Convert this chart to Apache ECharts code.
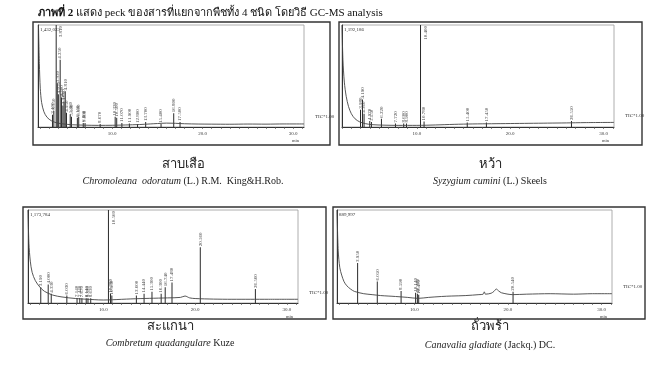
<!DOCTYPE html>
<html><head><meta charset="utf-8">
<script src="https://cdn.jsdelivr.net/npm/echarts@6/dist/echarts.min.js"></script>
<style>html,body{margin:0;padding:0;background:#fff}#c{width:655px;height:388px}</style>
</head><body><div id="c"></div>
<script>
// ---------- DATA (relative intensity % of full scale vs retention time, min) ----------
const figureTitleBold = 'ภาพที่ 2';
const figureTitleRest = ' แสดง peck ของสารที่แยกจากพืชทั้ง 4 ชนิด โดยวิธี GC-MS analysis';
const thaiNames = ['สาบเสือ', 'หว้า', 'สะแกนา', 'ถั่วพร้า'];
const sciItalic = ['Chromoleana  odoratum', 'Syzygium cumini', 'Combretum quadangulare', 'Canavalia gladiate'];
const sciRest = [' (L.) R.M.  King&H.Rob.', ' (L.) Skeels', ' Kuze', ' (Jackq.) DC.'];
const fullScale = [1432023, 1192186, 1173784, 889997];
const ticLabel = 'TIC*1.00';
const xLabelValues = [10, 20, 30];
const xTickValues = [2,3,4,5,6,7,8,9,10,11,12,13,14,15,16,17,18,19,20,21,22,23,24,25,26,27,28,29,30,31];
const xRanges = [[1.8, 31.2], [2.0, 31.1], [1.8, 31.2], [1.75, 31.1]];

// สาบเสือ
const tlTraceT = [1.85, 1.95, 2.05, 2.2, 2.45, 2.8, 3.3, 3.9, 4.6, 5.6, 7, 8.5, 10, 11.5, 13, 14.2, 15, 16, 17, 18, 19.5, 21, 23, 25, 27, 29, 31.2];
const tlTraceV = [100, 62, 38, 24, 15, 9.5, 6, 4, 3, 2.2, 1.8, 1.6, 1.7, 2, 2.4, 3, 3.4, 3.8, 3.6, 3.2, 2.9, 2.8, 2.7, 2.9, 2.8, 3, 3];
const tlPeakT = [3.4, 3.55, 3.81, 3.93, 4.05, 4.25, 4.4, 4.55, 4.68, 4.81, 4.95, 5.36, 5.5, 6.15, 6.3, 6.8, 7.0, 8.67, 10.33, 10.5, 11.07, 11.9, 12.8, 13.7, 15.4, 16.8, 17.5];
const tlPeakV = [12, 16, 100, 43, 32, 66, 29, 21, 25, 35, 14, 12.5, 10, 9, 10, 4, 4, 3, 10, 9, 4, 3.5, 3, 5, 3, 13.5, 5];
// หว้า
const trTraceT = [2.0, 2.1, 2.25, 2.45, 2.7, 3.0, 3.4, 3.9, 4.5, 5.2, 6.5, 8, 10, 12, 14, 16, 18, 20, 22, 24, 26, 28, 31.1];
const trTraceV = [100, 66, 44, 30, 20, 13, 8, 5, 3.3, 2.3, 1.8, 1.6, 1.6, 2, 2.6, 3, 3.2, 3.4, 3.6, 3.8, 4, 4.3, 4.5];
const trPeakT = [3.98, 4.19, 4.36, 4.97, 5.15, 6.22, 7.72, 8.6, 8.9, 10.4, 10.78, 15.4, 17.45, 26.55];
const trPeakV = [17, 27, 13, 6, 5, 8, 3.5, 3.5, 3.5, 100, 5.5, 4.5, 4.5, 6];
// สะแกนา
const blTraceT = [1.8, 1.9, 2.05, 2.25, 2.6, 3.1, 3.6, 4.5, 5.5, 7, 9, 10, 11, 13, 15, 17, 18.4, 18.9, 19.4, 20, 22, 24, 26, 28, 31.2];
const blTraceV = [100, 64, 45, 33, 24, 17, 12.5, 8.5, 6.5, 4.8, 3.6, 3.2, 3.5, 4.4, 5, 5.5, 6, 7.5, 5.5, 4.8, 4.2, 4, 4, 4, 4];
const blPeakT = [3.19, 4.0, 4.33, 6.03, 7.14, 7.44, 7.67, 8.14, 8.33, 8.63, 10.56, 10.78, 10.93, 13.6, 14.44, 15.3, 16.3, 16.74, 17.48, 20.56, 26.56];
const blPeakV = [17, 20, 10, 8, 5.5, 5.5, 5, 5, 5, 5, 100, 10, 8, 8, 10, 12, 10, 17, 22, 60, 15];
// ถั่วพร้า
const brTraceT = [1.75, 1.88, 2.05, 2.25, 2.5, 2.8, 3.2, 3.6, 4.6, 5.5, 6.4, 8, 9.3, 10.4, 11.5, 12.9, 14, 15.5, 16.9, 17.35, 17.47, 17.6, 18.2, 18.5, 18.75, 19.0, 19.3, 20.5, 22, 24.5, 27, 29, 31.1];
const brTraceV = [100, 56, 38, 30, 23, 18.5, 15, 12.5, 10, 9, 8, 7, 6, 5, 6, 7, 7.5, 8, 9, 9.5, 12, 9.5, 10.5, 12.5, 15, 13, 11, 9, 9.5, 10, 9.5, 10, 10];
const brPeakT = [3.95, 6.05, 8.59, 10.14, 10.33, 10.47, 20.54];
const brPeakV = [43, 23, 13, 11, 10, 9, 12];

const traces = [[tlTraceT, tlTraceV], [trTraceT, trTraceV], [blTraceT, blTraceV], [brTraceT, brTraceV]];
const peaks = [[tlPeakT, tlPeakV], [trPeakT, trPeakV], [blPeakT, blPeakV], [brPeakT, brPeakV]];

// ---------- LAYOUT ----------
const SERIF = '"Liberation Serif", "Times New Roman", "Noto Sans", serif';
const layouts = [
  {box: [33, 22, 297, 123], grid: {left: 38, top: 25, width: 266, height: 102}, cap: [183, 165, 181]},
  {box: [339, 22, 303, 123], grid: {left: 342, top: 25, width: 272, height: 102}, cap: [490, 165, 181]},
  {box: [23, 207, 303, 112], grid: {left: 28, top: 210, width: 270, height: 93}, cap: [170, 327, 343]},
  {box: [333, 207, 312, 112], grid: {left: 337, top: 210, width: 275, height: 93}, cap: [490, 327, 345]}
];
const INK = '#333';

const grids = [], xAxes = [], yAxes = [], series = [], graphics = [];

graphics.push({
  type: 'text', x: 38, y: 13,
  style: {
    text: '{b|' + figureTitleBold + '}' + figureTitleRest,
    font: '11px ' + SERIF, fill: '#111', textVerticalAlign: 'middle',
    rich: {b: {fontWeight: 'bold', fontSize: 11, fontFamily: SERIF}}
  }
});

layouts.forEach((L, i) => {
  const g = L.grid;
  grids.push({left: g.left, top: g.top, width: g.width, height: g.height, show: true,
    borderColor: '#999', borderWidth: 0.8, containLabel: false});
  xAxes.push({
    type: 'value', gridIndex: i, min: xRanges[i][0], max: xRanges[i][1],
    axisLine: {show: true, onZero: false, lineStyle: {color: INK, width: 1}},
    axisTick: {show: true, customValues: xTickValues, length: 2, lineStyle: {color: '#555', width: 0.7}},
    axisLabel: {show: true, customValues: xLabelValues, formatter: v => v.toFixed(1),
      fontSize: 5, color: '#333', margin: 4, fontFamily: SERIF},
    splitLine: {show: false}
  });
  yAxes.push({
    type: 'value', gridIndex: i, min: 0, max: 100,
    axisLine: {show: true, lineStyle: {color: INK, width: 1}},
    axisTick: {show: false}, axisLabel: {show: false}, splitLine: {show: false}
  });
  const [tt, tv] = traces[i];
  series.push({
    type: 'line', xAxisIndex: i, yAxisIndex: i, symbol: 'none', smooth: 0.3,
    data: tt.map((t, k) => [t, tv[k]]),
    lineStyle: {color: '#444', width: 0.9}, silent: true, animation: false, clip: true,
    endLabel: {show: true, formatter: ticLabel, fontSize: 5, color: '#333', fontFamily: SERIF, offset: [3, -7]}
  });
  const [pt, pv] = peaks[i];
  series.push({
    type: 'bar', xAxisIndex: i, yAxisIndex: i, barWidth: 1, animation: false, silent: true,
    itemStyle: {color: '#2a2a2a'},
    data: pt.map((t, k) => {
      const item = {value: [t, pv[k]]};
      if (pv[k] >= 100) item.label = {position: [3, 1], align: 'right', verticalAlign: 'top', rotate: 90};
      return item;
    }),
    label: {show: true, position: 'top', rotate: 90, align: 'left', verticalAlign: 'middle', distance: 1,
      fontSize: 5, color: '#444', fontFamily: SERIF, formatter: p => p.value[0].toFixed(3)}
  });
  graphics.push({type: 'rect', shape: {x: L.box[0], y: L.box[1], width: L.box[2], height: L.box[3]},
    style: {fill: 'none', stroke: '#333', lineWidth: 1.4}, silent: true});
  graphics.push({type: 'text', x: g.left + 2, y: g.top + 2,
    style: {text: fullScale[i].toLocaleString('en-US'), font: '5px ' + SERIF, fill: '#333'}});
  graphics.push({type: 'text', x: g.left + g.width - 12, y: g.top + g.height + 11,
    style: {text: 'min', font: '4.5px ' + SERIF, fill: '#333'}});
  graphics.push({type: 'text', x: L.cap[0], y: L.cap[1],
    style: {text: thaiNames[i], font: '13px ' + SERIF, fill: '#222', textAlign: 'center', textVerticalAlign: 'middle'}});
  graphics.push({type: 'text', x: L.cap[0], y: L.cap[2],
    style: {text: '{i|' + sciItalic[i] + '}' + sciRest[i], font: '10px ' + SERIF, fill: '#222',
      textAlign: 'center', textVerticalAlign: 'middle',
      rich: {i: {fontStyle: 'italic', fontSize: 10, fontFamily: SERIF}}}});
});

const chart = echarts.init(document.getElementById('c'), null, {renderer: 'canvas'});
chart.setOption({
  backgroundColor: '#fff', animation: false,
  grid: grids, xAxis: xAxes, yAxis: yAxes, series: series, graphic: graphics
});
</script></body></html>
